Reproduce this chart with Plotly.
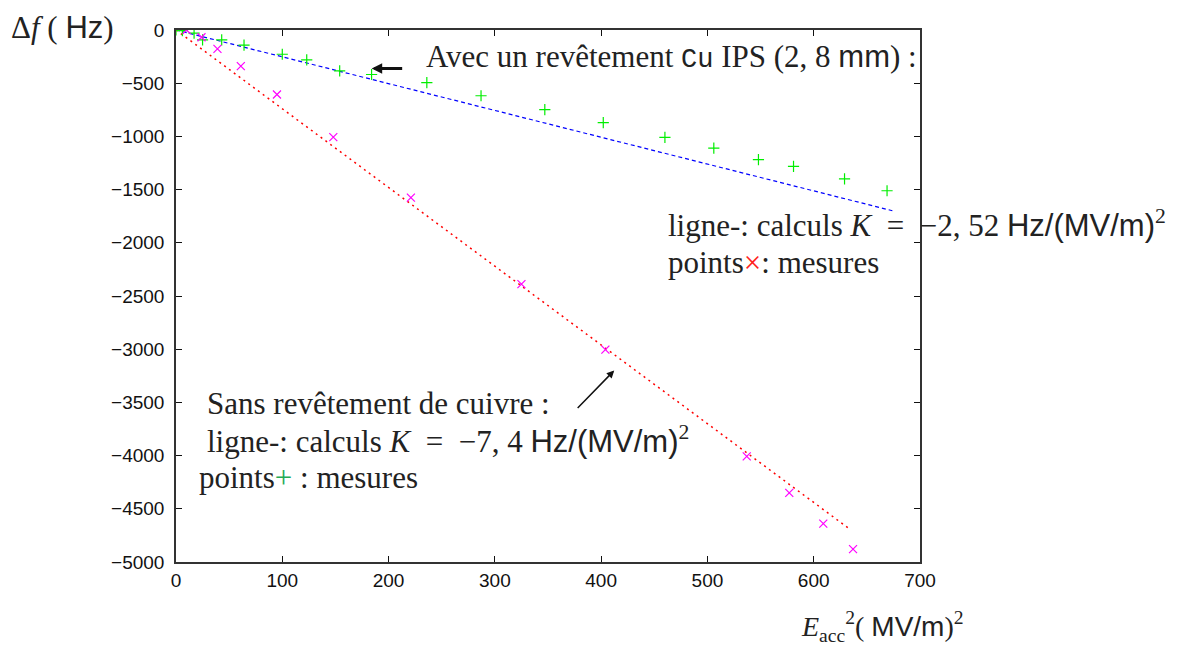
import plotly.graph_objects as go

# Cu IPS coated cavity: measured points (green +)
cu_x = [0, 6, 17, 25, 43, 64, 100, 123, 154, 184, 236, 287, 347, 402, 460, 506, 548, 581, 629, 669]
cu_y = [0, -5, -30, -93, -93, -143, -228, -281, -384, -418, -495, -618, -749, -870, -1010, -1110, -1219, -1281, -1399, -1511]

# Uncoated cavity: measured points (magenta x)
bare_x = [10, 24, 39, 61, 95, 148, 221, 325, 404, 537, 577, 609, 637]
bare_y = [0, -68, -177, -339, -606, -1007, -1576, -2388, -3004, -4008, -4350, -4639, -4879]

# Calculated lines (K coefficients) and their x extent
k_cu = -2.52
k_bare = -7.4
cu_line_x = [0, 674]
bare_line_x = [0, 633]

x_ticks = [0, 100, 200, 300, 400, 500, 600, 700]
y_ticks = [0, -500, -1000, -1500, -2000, -2500, -3000, -3500, -4000, -4500, -5000]

SERIF = "Liberation Serif, Times New Roman, serif"
SANS = "Liberation Sans, Arial, sans-serif"
MONO = "Liberation Mono, DejaVu Sans Mono, monospace"

fig = go.Figure()
fig.add_trace(go.Scatter(x=cu_line_x, y=[k_cu * v for v in cu_line_x], mode="lines",
                         line=dict(color="#0000ff", width=1.2, dash="4px,3px"), showlegend=False))
fig.add_trace(go.Scatter(x=bare_line_x, y=[k_bare * v for v in bare_line_x], mode="lines",
                         line=dict(color="#ff0000", width=1.5, dash="2px,4px"), showlegend=False))
fig.add_trace(go.Scatter(x=cu_x, y=cu_y, mode="markers",
                         marker=dict(symbol="cross-thin", size=8, line=dict(color="#00ee00", width=1.2)),
                         showlegend=False))
fig.add_trace(go.Scatter(x=bare_x, y=bare_y, mode="markers",
                         marker=dict(symbol="x-thin", size=8, line=dict(color="#ff00ff", width=1.2)),
                         showlegend=False))

def sans(t):
    return f"<span style='font-family:{SANS}'>{t}</span>"

def mono(t):
    return f"<span style='font-family:{MONO};font-size:27px'>{t}</span>"

FS = 31
EQ = "\u2002=\u2002"
annots = [
    dict(text=f"Avec un revêtement {mono('Cu')} IPS (2, 8 {sans('mm')}) :", x=0.334, y=0.949),
    dict(text=f"ligne-: calculs <i>K</i>{EQ}−2, 52 {sans('Hz/(MV/m)')}<sup>2</sup>", x=0.659, y=0.636),
    dict(text="points<span style='color:#ff2020'>×</span>: mesures", x=0.659, y=0.563),
    dict(text="Sans revêtement de cuivre :", x=0.039, y=0.297),
    dict(text=f"ligne-: calculs <i>K</i>{EQ}−7, 4 {sans('Hz/(MV/m)')}<sup>2</sup>", x=0.039, y=0.231),
    dict(text="points<span style='color:#22aa55'>+</span> : mesures", x=0.028, y=0.158),
    dict(text=f"Δ<i>f</i> ( {sans('Hz')})", x=-0.224, y=1.004),
    dict(text=f"<i>E</i><sub>acc</sub><sup>2</sup>( {sans('MV/m')})<sup>2</sup>", x=0.838, y=-0.122, size=28),
]
for a in annots:
    fig.add_annotation(text=a["text"], x=a["x"], y=a["y"], xref="paper", yref="paper",
                       xanchor="left", yanchor="middle", showarrow=False,
                       font=dict(family=SERIF, size=a.get("size", FS), color="#222222"))

# arrows
fig.add_annotation(x=0.263, y=0.9275, xref="paper", yref="paper", text="", showarrow=True,
                   ax=32, ay=0, axref="pixel", ayref="pixel", arrowhead=2, arrowsize=0.7,
                   arrowwidth=3, arrowcolor="#111111")
fig.add_annotation(x=0.589, y=0.360, xref="paper", yref="paper", text="", showarrow=True,
                   ax=-38, ay=39, arrowhead=2, arrowsize=1, arrowwidth=1.5, arrowcolor="#111111")

axis_common = dict(showgrid=False, zeroline=False, showline=True, linecolor="#333333", linewidth=1.5,
                   mirror="ticks", ticks="inside", ticklen=6, tickcolor="#111111",
                   tickfont=dict(family=SANS, size=19, color="#111111"))
fig.update_xaxes(range=[0, 700], tickvals=x_ticks, ticklabelstandoff=0, **axis_common)
fig.update_yaxes(range=[-5000, 0], tickvals=y_ticks, ticklabelstandoff=6, **axis_common)

# page body has an 8px margin: figure is placed at (8, 8)
fig.update_layout(width=1187, height=638, autosize=False,
                  margin=dict(l=168, r=275, t=18, b=84),
                  plot_bgcolor="white", paper_bgcolor="white")

fig.write_html("out.html")
